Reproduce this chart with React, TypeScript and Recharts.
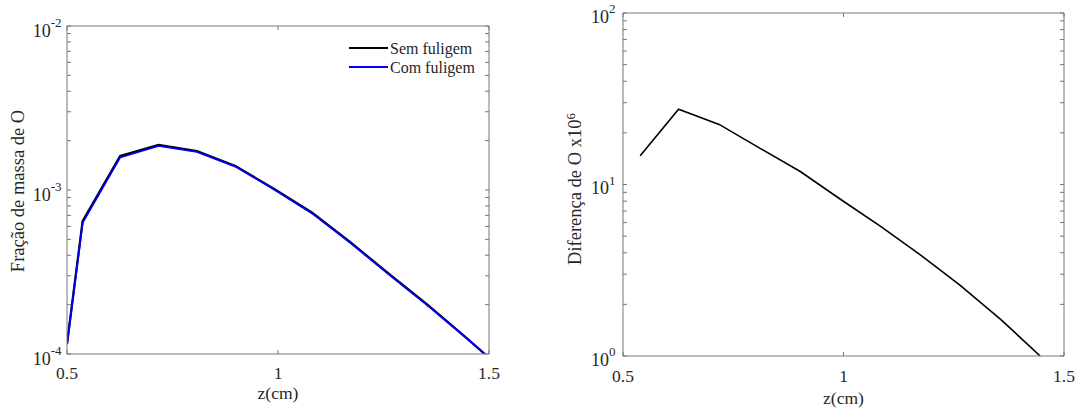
import React from 'react';
import { LineChart, Line, XAxis, YAxis, Legend } from 'recharts';

// ---- data ----
const zLeft = [0.5, 0.537, 0.626, 0.717, 0.808, 0.899, 0.99, 1.081, 1.172, 1.263, 1.354, 1.445, 1.49];
const semFuligem = [1.15e-4, 6.45e-4, 1.61e-3, 1.88e-3, 1.726e-3, 1.402e-3, 1.018e-3, 7.26e-4, 4.79e-4, 3.08e-4, 2.0e-4, 1.265e-4, 1.0e-4];
const comFuligem = [1.15e-4, 6.3e-4, 1.58e-3, 1.86e-3, 1.71e-3, 1.39e-3, 1.01e-3, 7.2e-4, 4.75e-4, 3.05e-4, 1.98e-4, 1.26e-4, 1.0e-4];

const zRight = [0.539, 0.626, 0.718, 0.81, 0.902, 0.993, 1.085, 1.175, 1.264, 1.357, 1.446];
const diferenca = [14.7, 27.5, 22.4, 16.3, 11.9, 8.2, 5.68, 3.87, 2.59, 1.63, 1.0];

const xTicks = [0.5, 1, 1.5];
const yTicksLeft = [1e-4, 1e-3, 1e-2];
const yMinorLeft = [1e-4, 2e-4, 3e-4, 4e-4, 5e-4, 6e-4, 7e-4, 8e-4, 9e-4, 1e-3, 2e-3, 3e-3, 4e-3, 5e-3, 6e-3, 7e-3, 8e-3, 9e-3, 1e-2];
const yTicksRight = [1, 10, 100];
const yMinorRight = [1, 2, 3, 4, 5, 6, 7, 8, 9, 10, 20, 30, 40, 50, 60, 70, 80, 90, 100];

const seriesOrder = ['Sem fuligem', 'Com fuligem'];

const xTitle = 'z(cm)';
const yTitleLeft = 'Fração de massa de O';
const yTitleRight = 'Diferença de O x10';
const yTitleRightExp = '6';

const leftData = zLeft.map((z, i) => ({ z, sem: semFuligem[i], com: comFuligem[i] }));
const rightData = zRight.map((z, i) => ({ z, dif: diferenca[i] }));

// ---- styles ----
const FONT = '"Liberation Serif", "Times New Roman", serif';
const TEXT = '#262626';
const AXIS = '#777777';

const noTick = () => <g />;

const makeYTick = (gap: number, base: number) => (props: any) => {
  const { x, y, payload } = props;
  const e = Math.round(Math.log10(payload.value));
  return (
    <text x={x - gap} y={y + base} textAnchor="end" fontFamily={FONT} fontSize={18} fill={TEXT}>
      10
      <tspan dy={-9.5} fontSize={13}>{String(e)}</tspan>
    </text>
  );
};

const makeXTick = (base: number) => (props: any) => {
  const { x, y, payload } = props;
  return (
    <text x={x} y={y + base} textAnchor="middle" fontFamily={FONT} fontSize={17.5} fill={TEXT}>
      {String(payload.value)}
    </text>
  );
};

const makeXTitle = (base: number) => (props: any) => {
  const vb = props.viewBox || {};
  return (
    <text x={vb.x + vb.width / 2} y={vb.y + base} textAnchor="middle" fontFamily={FONT} fontSize={17.5} fill={TEXT}>
      {xTitle}
    </text>
  );
};

const makeYTitle = (dxBase: number, dyCenter: number, text: string, exp?: string) => (props: any) => {
  const vb = props.viewBox || {};
  const cx = vb.x + dxBase;
  const cy = vb.y + vb.height / 2 + dyCenter;
  return (
    <text
      x={cx}
      y={cy}
      transform={`rotate(-90, ${cx}, ${cy})`}
      textAnchor="middle"
      fontFamily={FONT}
      fontSize={18.5}
      fill={TEXT}
    >
      {text}
      {exp ? <tspan dy={-6} fontSize={13}>{exp}</tspan> : null}
    </text>
  );
};

const renderLegend = (props: any) => {
  const payload = [...(props.payload || [])].sort(
    (a: any, b: any) => seriesOrder.indexOf(a.value) - seriesOrder.indexOf(b.value)
  );
  return (
    <svg width={150} height={44} style={{ display: 'block' }}>
      {payload.map((p: any, i: number) => (
        <g key={i}>
          <line x1={0} x2={39} y1={10 + 19 * i} y2={10 + 19 * i} stroke={p.color} strokeWidth={2} />
          <text x={41} y={15.5 + 19 * i} fontFamily={FONT} fontSize={16} fill={TEXT}>
            {p.value}
          </text>
        </g>
      ))}
    </svg>
  );
};

function LeftChart() {
  const dom: [number, number] = [1e-4, 1e-2];
  const xdom: [number, number] = [0.5, 1.5];
  return (
    <LineChart width={540} height={408} data={leftData} margin={{ top: 26, right: 51, bottom: 0, left: 0 }}>
      <XAxis
        xAxisId="x" dataKey="z" type="number" domain={xdom} ticks={xTicks} allowDataOverflow
        height={54} tickLine={false} tickSize={0} tickMargin={0} interval={0}
        axisLine={{ stroke: AXIS }} tick={makeXTick(24.5)} label={makeXTitle(45)}
      />
      <XAxis
        xAxisId="xb" dataKey="z" type="number" domain={xdom} ticks={xTicks} allowDataOverflow
        orientation="bottom" mirror height={54} tick={noTick} tickSize={4} tickMargin={0} interval={0}
        tickLine={{ stroke: AXIS }} axisLine={false}
      />
      <XAxis
        xAxisId="xt" dataKey="z" type="number" domain={xdom} ticks={xTicks} allowDataOverflow
        orientation="top" mirror height={20} tick={noTick} tickSize={4} tickMargin={0} interval={0}
        tickLine={{ stroke: AXIS }} axisLine={{ stroke: AXIS }}
      />
      <YAxis
        yAxisId="y" type="number" scale="log" domain={dom} ticks={yTicksLeft} allowDataOverflow
        width={67} tickLine={false} tickSize={0} tickMargin={0} interval={0}
        axisLine={{ stroke: AXIS }} tick={makeYTick(5.5, 10.8)} label={makeYTitle(23.5, 1, yTitleLeft)}
      />
      <YAxis
        yAxisId="yl" type="number" scale="log" domain={dom} ticks={yMinorLeft} allowDataOverflow
        orientation="left" mirror width={20} tick={noTick} tickSize={4} tickMargin={0} interval={0}
        tickLine={{ stroke: AXIS }} axisLine={false}
      />
      <YAxis
        yAxisId="yr" type="number" scale="log" domain={dom} ticks={yMinorLeft} allowDataOverflow
        orientation="right" mirror width={20} tick={noTick} tickSize={4} tickMargin={0} interval={0}
        tickLine={{ stroke: AXIS }} axisLine={{ stroke: AXIS }}
      />
      <Legend
        layout="vertical" verticalAlign="middle" align="center"
        wrapperStyle={{ left: 349, top: 38, width: 150, height: 44 }}
        content={renderLegend}
      />
      <Line
        xAxisId="x" yAxisId="y" dataKey="sem" name="Sem fuligem" type="linear"
        stroke="#000000" strokeWidth={2.3} dot={false} isAnimationActive={false}
      />
      <Line
        xAxisId="x" yAxisId="y" dataKey="com" name="Com fuligem" type="linear"
        stroke="#0000ff" strokeWidth={1.8} dot={false} isAnimationActive={false}
      />
    </LineChart>
  );
}

function RightChart() {
  const dom: [number, number] = [1, 100];
  const xdom: [number, number] = [0.5, 1.5];
  return (
    <LineChart width={539} height={408} data={rightData} margin={{ top: 13, right: 15, bottom: 0, left: 0 }}>
      <XAxis
        xAxisId="x" dataKey="z" type="number" domain={xdom} ticks={xTicks} allowDataOverflow
        height={52} tickLine={false} tickSize={0} tickMargin={0} interval={0}
        axisLine={{ stroke: AXIS }} tick={makeXTick(26)} label={makeXTitle(47.5)}
      />
      <XAxis
        xAxisId="xb" dataKey="z" type="number" domain={xdom} ticks={xTicks} allowDataOverflow
        orientation="bottom" mirror height={52} tick={noTick} tickSize={4} tickMargin={0} interval={0}
        tickLine={{ stroke: AXIS }} axisLine={false}
      />
      <XAxis
        xAxisId="xt" dataKey="z" type="number" domain={xdom} ticks={xTicks} allowDataOverflow
        orientation="top" mirror height={20} tick={noTick} tickSize={4} tickMargin={0} interval={0}
        tickLine={{ stroke: AXIS }} axisLine={{ stroke: AXIS }}
      />
      <YAxis
        yAxisId="y" type="number" scale="log" domain={dom} ticks={yTicksRight} allowDataOverflow
        width={83} tickLine={false} tickSize={0} tickMargin={0} interval={0}
        axisLine={{ stroke: AXIS }} tick={makeYTick(7.5, 9.5)}
        label={makeYTitle(41, 4.5, yTitleRight, yTitleRightExp)}
      />
      <YAxis
        yAxisId="yl" type="number" scale="log" domain={dom} ticks={yMinorRight} allowDataOverflow
        orientation="left" mirror width={20} tick={noTick} tickSize={4} tickMargin={0} interval={0}
        tickLine={{ stroke: AXIS }} axisLine={false}
      />
      <YAxis
        yAxisId="yr" type="number" scale="log" domain={dom} ticks={yMinorRight} allowDataOverflow
        orientation="right" mirror width={20} tick={noTick} tickSize={4} tickMargin={0} interval={0}
        tickLine={{ stroke: AXIS }} axisLine={{ stroke: AXIS }}
      />
      <Line
        xAxisId="x" yAxisId="y" dataKey="dif" name="Diferença" type="linear"
        stroke="#000000" strokeWidth={1.6} dot={false} isAnimationActive={false}
      />
    </LineChart>
  );
}

export default function App() {
  return (
    <div style={{ position: 'absolute', left: 0, top: 0, width: 1079, height: 408, background: '#ffffff', overflow: 'hidden' }}>
      <div style={{ position: 'absolute', left: 0, top: 0 }}>
        <LeftChart />
      </div>
      <div style={{ position: 'absolute', left: 540, top: 0 }}>
        <RightChart />
      </div>
    </div>
  );
}
